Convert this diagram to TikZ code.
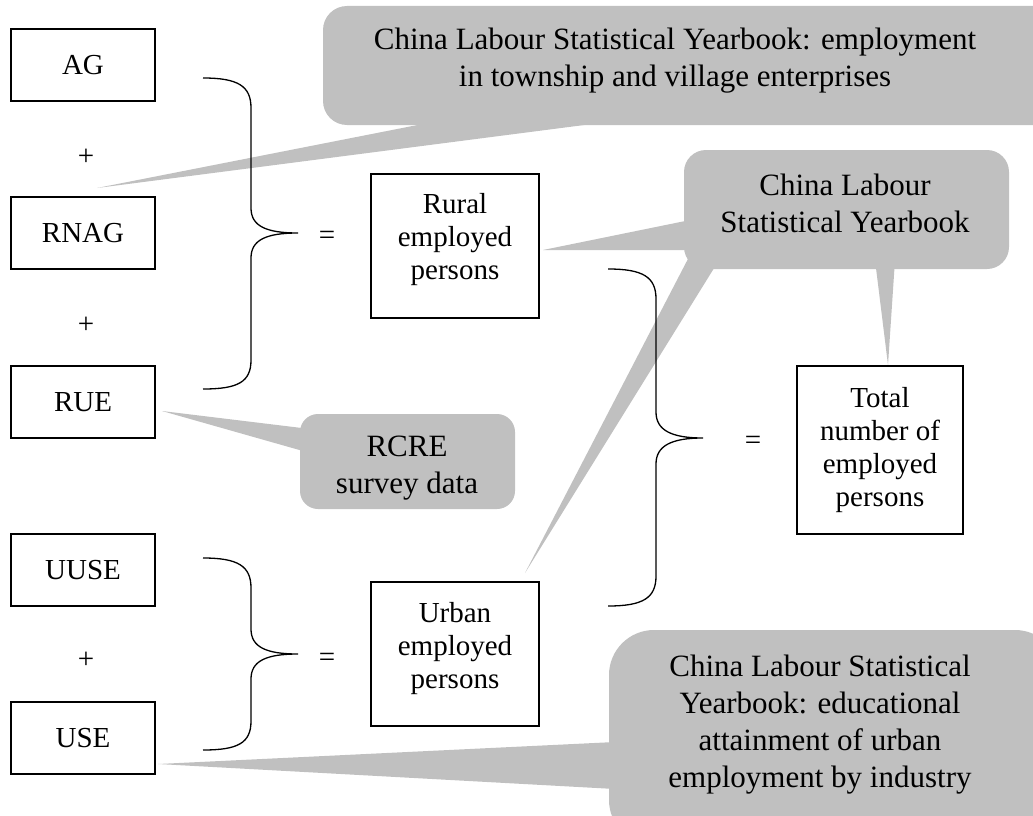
\documentclass[tikz,border=0pt]{standalone}
\usepackage{fontspec}
\setmainfont{Liberation Serif}
\definecolor{bubblegray}{RGB}{192,192,192}
\begin{document}
\begin{tikzpicture}
    [x=1pt,y=-1pt,
     Box/.style={draw=black,line width=1.4pt,inner sep=0pt,align=center,font=\fontsize{29}{33}\selectfont},
     Bubble/.style={fill=bubblegray},
     Talk/.style={align=center,font=\fontsize{31}{37}\selectfont},
     Sign/.style={font=\fontsize{29}{33}\selectfont},
     Brace/.style={draw=black,line width=1.3pt}];
    \useasboundingbox (0,0) rectangle (1033,816);

    % the grey callouts
    \fill[Bubble,rounded corners=24pt] (323,6) rectangle (1060,125);
    \fill[Bubble] (443,120) -- (97,188) -- (623,120) -- cycle;
    \node[Talk] (tve) at (675,61) {China Labour Statistical Yearbook: employment\\in township and village enterprises};

    \fill[Bubble,rounded corners=22pt] (684,150) rectangle (1009,269);
    \fill[Bubble] (700,218) -- (543,250) -- (700,250) -- cycle;
    \fill[Bubble] (690,255) -- (525,573) -- (716,265) -- cycle;
    \fill[Bubble] (875,260) -- (888,365) -- (895,260) -- cycle;
    \node[Talk] (clsy) at (845,203) {China Labour\\Statistical Yearbook};

    \fill[Bubble,rounded corners=18pt] (300,414) rectangle (515,509);
    \fill[Bubble] (310,429) -- (162,411) -- (310,453) -- cycle;
    \node[Talk] (rcre) at (407,468) {RCRE\\survey data};

    \fill[Bubble,rounded corners=45pt] (609,630) rectangle (1060,845);
    \fill[Bubble] (615,742) -- (158,764) -- (615,789) -- cycle;
    \node[Talk] (edu) at (820,725) {China Labour Statistical\\Yearbook: educational\\attainment of urban\\employment by industry};

    % left column
    \node[Box,minimum width=144pt,minimum height=72pt] (ag) at (83,65) {AG};
    \node[Box,minimum width=144pt,minimum height=72pt] (rnag) at (83,233) {RNAG};
    \node[Box,minimum width=144pt,minimum height=72pt] (rue) at (83,402) {RUE};
    \node[Box,minimum width=144pt,minimum height=72pt] (uuse) at (83,570) {UUSE};
    \node[Box,minimum width=144pt,minimum height=72pt] (use) at (83,738) {USE};

    \node[Sign] (p1) at (86,157) {+};
    \node[Sign] (p2) at (86,325) {+};
    \node[Sign] (p3) at (86,660) {+};

    % braces
    \draw[Brace] (203,78) .. controls (238,78) and (251,86) .. (251,108) -- (251,208)
        .. controls (251,226) and (266,233) .. (298,233)
        .. controls (266,233) and (251,240) .. (251,258) -- (251,360)
        .. controls (251,382) and (238,389) .. (203,389);
    \draw[Brace] (608,269) .. controls (643,269) and (656,277) .. (656,299) -- (656,412)
        .. controls (656,430) and (671,438) .. (703,438)
        .. controls (671,438) and (656,446) .. (656,464) -- (656,576)
        .. controls (656,598) and (643,606) .. (608,606);
    \draw[Brace] (203,558) .. controls (238,558) and (251,566) .. (251,588) -- (251,629)
        .. controls (251,647) and (266,654) .. (298,654)
        .. controls (266,654) and (251,661) .. (251,679) -- (251,721)
        .. controls (251,743) and (238,750) .. (203,750);

    \node[Sign] (eq1) at (327,238) {=};
    \node[Sign] (eq2) at (753,443) {=};
    \node[Sign] (eq3) at (327,660) {=};

    % sums
    \node[Box,minimum width=168pt,minimum height=144pt] (rural) at (455,246) {Rural\\employed\\persons\\[-13pt]};
    \node[Box,minimum width=168pt,minimum height=144pt] (urban) at (455,654) {Urban\\employed\\persons\\[-15pt]};
    \node[Box,minimum width=166pt,minimum height=168pt] (total) at (880,450) {Total\\number of\\employed\\persons};
\end{tikzpicture}
\end{document}
